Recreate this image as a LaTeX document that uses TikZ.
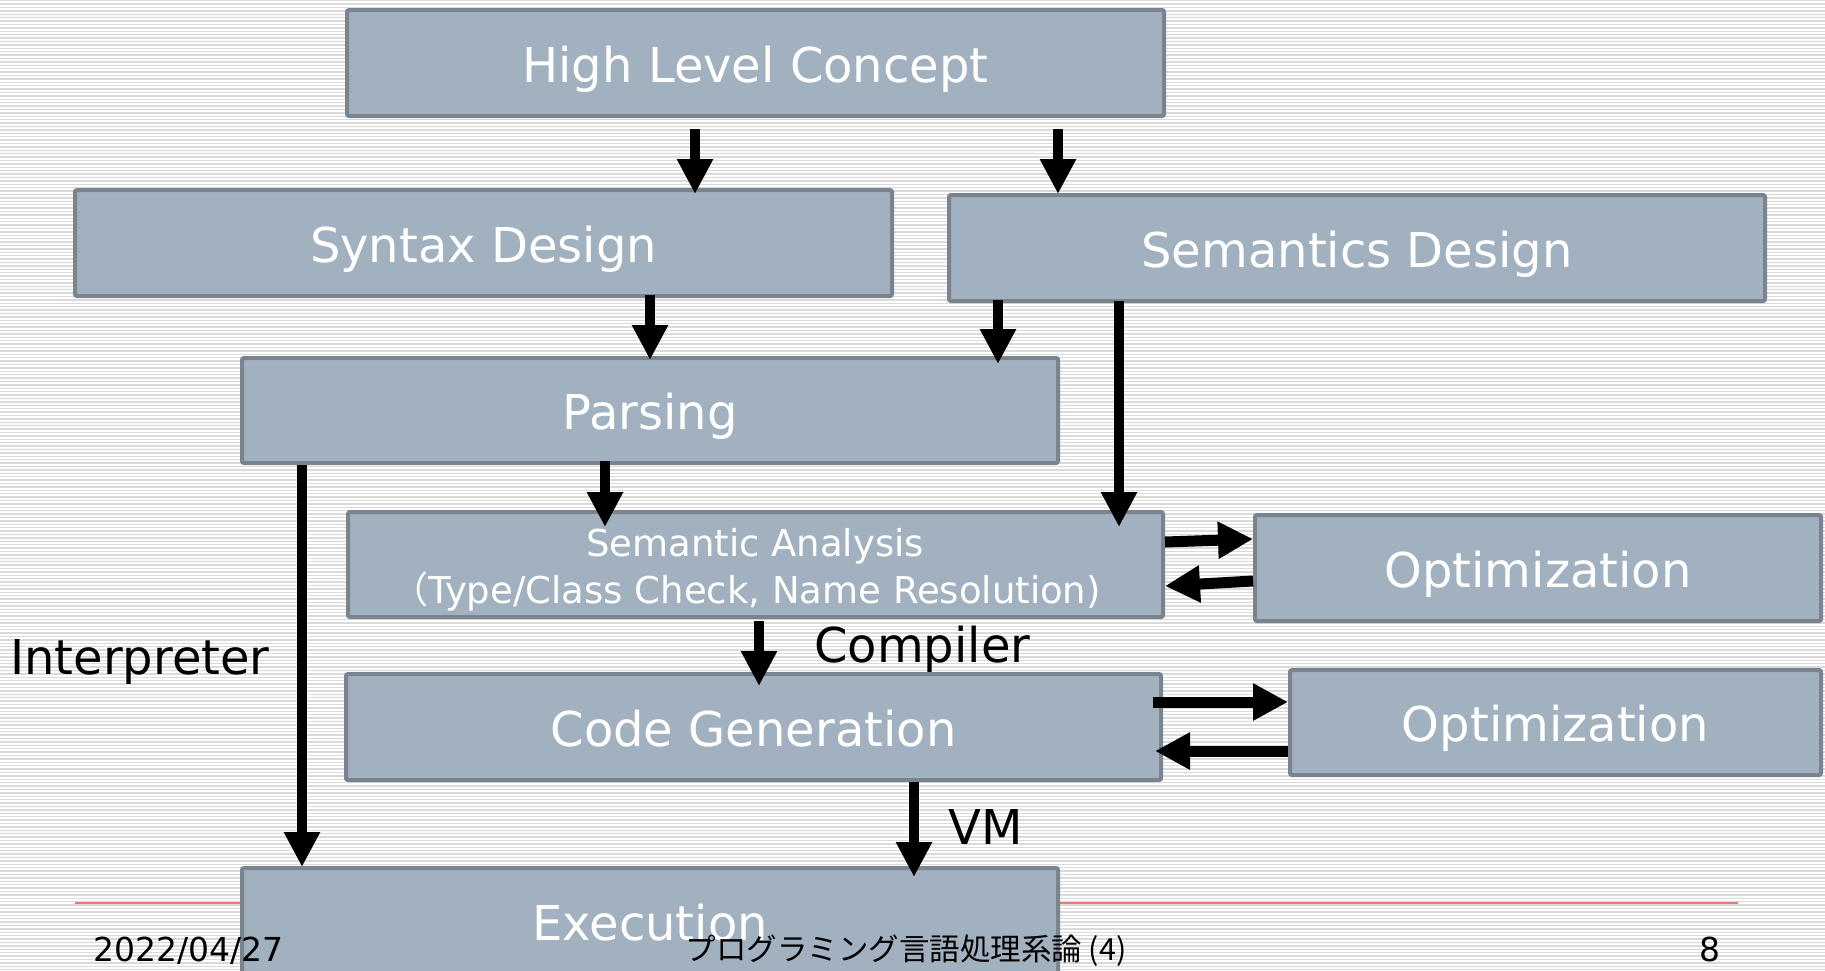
\documentclass[tikz,border=0pt]{standalone}
\usepackage{fontspec}
\setmainfont{DejaVu Sans}
\newfontfamily\cjk{Noto Sans CJK JP}
\usetikzlibrary{arrows.meta,calc}

\definecolor{boxfill}{RGB}{162,177,192}
\definecolor{boxline}{RGB}{122,132,143}
\definecolor{stripe}{RGB}{218,218,218}
\definecolor{footline}{RGB}{232,122,122}

\tikzset{
  box/.style={draw=boxline, fill=boxfill, line width=4pt, rounded corners=2pt,
    inner sep=0pt, outer sep=2pt, text=white,
    font=\fontsize{48}{58}\selectfont, text height=38pt, text depth=0pt},
  wtext/.style={text=white, inner sep=0pt, anchor=base, font=\fontsize{37}{44}\selectfont},
  lbl/.style={text=black, inner sep=0pt, anchor=base west, font=\fontsize{48}{58}\selectfont},
  foot/.style={text=black, inner sep=0pt, anchor=base},
  arr/.style={draw=black, line width=10pt, -{Triangle[length=35pt,width=34pt]}},
  harr/.style={arr, line width=11pt, -{Triangle[length=35pt,width=35pt]}}
}

\begin{document}
\begin{tikzpicture}[x=1pt,y=-1pt]
\useasboundingbox (0,0) rectangle (1825,970);
\clip (0,0) rectangle (1825,970);

% striped slide background
\fill[white] (0,0) rectangle (1825,970);
\foreach \y in {0,3.4,...,970} \fill[stripe] (0,\y) rectangle (1825,\y+1.3);

% footer rule
\draw[footline, line width=2pt] (75,903) -- (1738,903);

% stages
\node[box, minimum width=817pt, minimum height=106pt] (hlc)  at (755.5,63)  {High Level Concept};
\node[box, minimum width=817pt, minimum height=106pt] (syn)  at (483.5,243) {Syntax Design};
\node[box, minimum width=816pt, minimum height=106pt] (sem)  at (1357,248)  {Semantics Design};
\node[box, minimum width=816pt, minimum height=105pt] (par)  at (650,410.5) {Parsing};
\node[box, minimum width=815pt, minimum height=105pt] (sa)   at (755.5,564.5) {};
\node[box, minimum width=566pt, minimum height=106pt] (opt1) at (1538,568)  {Optimization};
\node[box, minimum width=815pt, minimum height=106pt] (cg)   at (753.5,727) {Code Generation};
\node[box, minimum width=531pt, minimum height=105pt] (opt2) at (1555.5,722.5) {Optimization};
\node[box, minimum width=816pt, minimum height=106pt] (exe)  at (650,921)   {Execution};

\node[wtext] (sa1) at (755,556) {Semantic Analysis};
\node[wtext] (sa2) at (746,603) {{\cjk （}Type/Class Check, Name Resolution)};

% flow arrows
\draw[arr] ($(hlc.south west)+(350,11)$) -- ($(syn.north west)+(622,6)$);
\draw[arr] ($(hlc.south west)+(713,11)$) -- ($(sem.north west)+(111,1)$);
\draw[arr] ($(syn.south west)+(577,-3)$) -- ($(par.north west)+(410,4)$);
\draw[arr] ($(sem.south west)+(51,-3)$)  -- ($(par.north west)+(758,8)$);
\draw[arr] ($(sem.south west)+(172,-2)$) -- ($(sa.north west)+(773,17)$);
\draw[arr] ($(par.south west)+(365,-4)$) -- ($(sa.north west)+(259,17)$);
\draw[arr] ($(par.south west)+(62,0)$)   -- ($(exe.north west)+(62,1)$);
\draw[arr] ($(sa.south west)+(413,2)$)   -- ($(cg.north west)+(415,14)$);
\draw[arr] ($(cg.south west)+(570,0)$)   -- ($(exe.north west)+(674,11)$);

% optimisation loops
\draw[harr] ($(sa.north east)+(0,32)$)   -- ($(opt1.north west)+(0,26)$);
\draw[harr] ($(opt1.north west)+(0,68)$) -- ($(sa.north east)+(0,76)$);
\draw[harr] ($(cg.north east)+(-10,30)$) -- ($(opt2.north west)+(0,34)$);
\draw[harr] ($(opt2.north west)+(0,83)$) -- ($(cg.north east)+(-8,79)$);

% path labels
\node[lbl] (interp) at (10,674)  {Interpreter};
\node[lbl] (comp)   at (814,662) {Compiler};
\node[lbl] (vm)     at (948,844) {VM};

% footer
\node[foot, anchor=base west, font=\fontsize{33}{40}\selectfont] (date) at (93,961) {2022/04/27};
\node[foot, font=\cjk\fontsize{30.5}{36}\selectfont] (title) at (906,960) {プログラミング言語処理系論 (4)};
\node[foot, font=\fontsize{33}{40}\selectfont] (page) at (1710,961) {8};
\end{tikzpicture}
\end{document}
